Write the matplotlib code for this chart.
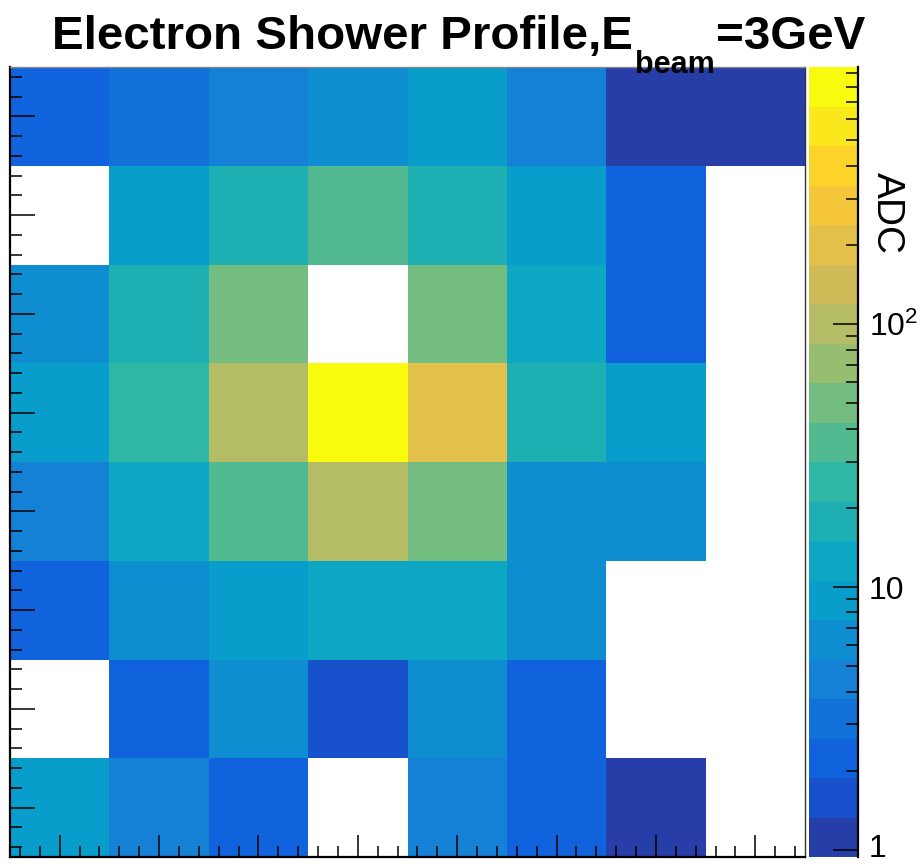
import numpy as np
import matplotlib
matplotlib.use("Agg")
import matplotlib.pyplot as plt
from matplotlib.colors import ListedColormap, BoundaryNorm
from matplotlib.ticker import FixedLocator, NullFormatter, MultipleLocator, NullLocator
import matplotlib.transforms as mtransforms

plt.rcParams['font.family'] = ['Liberation Sans', 'DejaVu Sans']
plt.rcParams['mathtext.fontset'] = 'custom'
plt.rcParams['mathtext.rm'] = 'Liberation Sans'

# ---------------- data (ADC per cell, rows listed top -> bottom) ----------------
nan = np.nan
row_top0 = [2.2, 3.1, 4.4, 6.3, 8.9, 4.4, 1.1, 1.1]
row_top1 = [nan, 8.9, 18, 35, 18, 8.9, 2.2, nan]
row_top2 = [6.3, 18, 50, nan, 50, 12.5, 2.2, nan]
row_top3 = [8.9, 25, 100, 900, 200, 18, 8.9, nan]
row_top4 = [4.4, 12.5, 35, 100, 50, 6.3, 6.3, nan]
row_top5 = [2.2, 6.3, 8.9, 12.5, 12.5, 6.3, nan, nan]
row_top6 = [nan, 2.2, 6.3, 1.6, 6.3, 2.2, nan, nan]
row_top7 = [8.9, 4.4, 2.2, nan, 4.4, 2.2, 1.1, nan]

cbar_ticks = [1, 10, 100]
cbar_ticklabels = ["1", "10", r"$\mathregular{10^{2}}$"]
z_min, z_max = 0.94, 950.0
n_contours = 20

grid = np.array([row_top0, row_top1, row_top2, row_top3,
                 row_top4, row_top5, row_top6, row_top7], dtype=float)

# ---------------- ROOT kBird palette, 20 contour bands ----------------
stops = np.linspace(0, 1, 9)
red = [0.2082, 0.0592, 0.0780, 0.0232, 0.1802, 0.5301, 0.8186, 0.9956, 0.9764]
green = [0.1664, 0.3599, 0.5041, 0.6419, 0.7178, 0.7492, 0.7328, 0.7862, 0.9832]
blue = [0.5293, 0.8684, 0.8385, 0.7914, 0.6425, 0.4662, 0.3499, 0.1968, 0.0539]
ncol = 255
band_cols = []
for i in range(n_contours):
    idx = int((i + 0.99) * ncol / n_contours)
    t = min(idx, ncol - 1) / (ncol - 1)
    band_cols.append((np.interp(t, stops, red), np.interp(t, stops, green), np.interp(t, stops, blue)))
cmap = ListedColormap(band_cols)
cmap.set_bad((1, 1, 1, 0))
levels = np.geomspace(z_min, z_max, n_contours + 1)
norm = BoundaryNorm(levels, n_contours)

# ---------------- figure ----------------
W, H = 923, 864
fig = plt.figure(figsize=(W / 100, H / 100), dpi=100)

def px_rect(x0, y0, x1, y1):
    return [x0 / W, 1 - y1 / H, (x1 - x0) / W, (y1 - y0) / H]

ax = fig.add_axes(px_rect(10, 67, 805, 857))
xe = np.arange(9) - 0.5
ye = np.arange(9) - 0.5
ax.pcolormesh(xe, ye, grid[::-1], cmap=cmap, norm=norm, antialiased=False, linewidth=0)
ax.set_xlim(-0.5, 7.5)
ax.set_ylim(-0.5, 7.5)
ax.xaxis.set_major_locator(MultipleLocator(1))
ax.xaxis.set_minor_locator(MultipleLocator(0.2))
ax.yaxis.set_major_locator(MultipleLocator(1))
ax.yaxis.set_minor_locator(MultipleLocator(0.2))
ax.xaxis.set_major_formatter(NullFormatter())
ax.yaxis.set_major_formatter(NullFormatter())
ax.tick_params(axis='x', which='major', direction='in', length=16, width=1.1, top=False, bottom=True)
ax.tick_params(axis='x', which='minor', direction='in', length=8, width=1.1, top=False, bottom=True)
ax.tick_params(axis='y', which='major', direction='in', length=18, width=1.1, left=True, right=False)
ax.tick_params(axis='y', which='minor', direction='in', length=8.6, width=1.1, left=True, right=False)
for s in ['left', 'bottom']:
    ax.spines[s].set_linewidth(1.6)
    ax.spines[s].set_color('black')
ax.spines['top'].set_linewidth(1.0)
ax.spines['top'].set_color('#888888')
ax.spines['right'].set_linewidth(1.0)
ax.spines['right'].set_color('#333333')

# ---------------- colour bar ----------------
cax = fig.add_axes(px_rect(809, 67, 858, 857))
cax.set_yscale('log')
cax.pcolormesh([0, 1], levels, np.arange(n_contours).reshape(-1, 1),
               cmap=cmap, vmin=-0.5, vmax=n_contours - 0.5, antialiased=False)
cax.set_xlim(0, 1)
cax.set_ylim(z_min, z_max)
cax.xaxis.set_major_locator(NullLocator())
cax.yaxis.tick_right()
cax.yaxis.set_major_locator(FixedLocator(cbar_ticks))
cax.set_yticklabels(cbar_ticklabels)
minor = [m * 10 ** e for e in range(0, 3) for m in range(2, 10)]
cax.yaxis.set_minor_locator(FixedLocator(minor))
cax.yaxis.set_minor_formatter(NullFormatter())
cax.tick_params(axis='y', which='major', direction='in', length=18, width=1.1,
                labelsize=23, pad=8, right=True, left=False)
cax.tick_params(axis='y', which='minor', direction='in', length=8.6, width=1.1, right=True, left=False)
for s in ['left', 'top', 'bottom']:
    cax.spines[s].set_visible(False)
cax.spines['right'].set_linewidth(1.6)
cax.spines['right'].set_color('black')

# nudge the lowest label up slightly so it stays inside the canvas
fig.canvas.draw()
for lab in cax.yaxis.get_ticklabels():
    if lab.get_text() == "1":
        lab.set_transform(lab.get_transform() +
                          mtransforms.ScaledTranslation(0, 4 / 100, fig.dpi_scale_trans))

fig.text(887 / W, 1 - 213 / H, "ADC", rotation=-90, ha='center', va='center', fontsize=28)

# ---------------- title ----------------
fig.text(52 / W, 1 - 49 / H, "Electron Shower Profile,E", fontsize=34.2, fontweight='bold',
         ha='left', va='baseline')
fig.text(635 / W, 1 - 73 / H, "beam", fontsize=22, fontweight='bold', ha='left', va='baseline')
fig.text(865 / W, 1 - 49 / H, "=3GeV", fontsize=34.2, fontweight='bold', ha='right', va='baseline')

fig.savefig("out.png", dpi=100)
